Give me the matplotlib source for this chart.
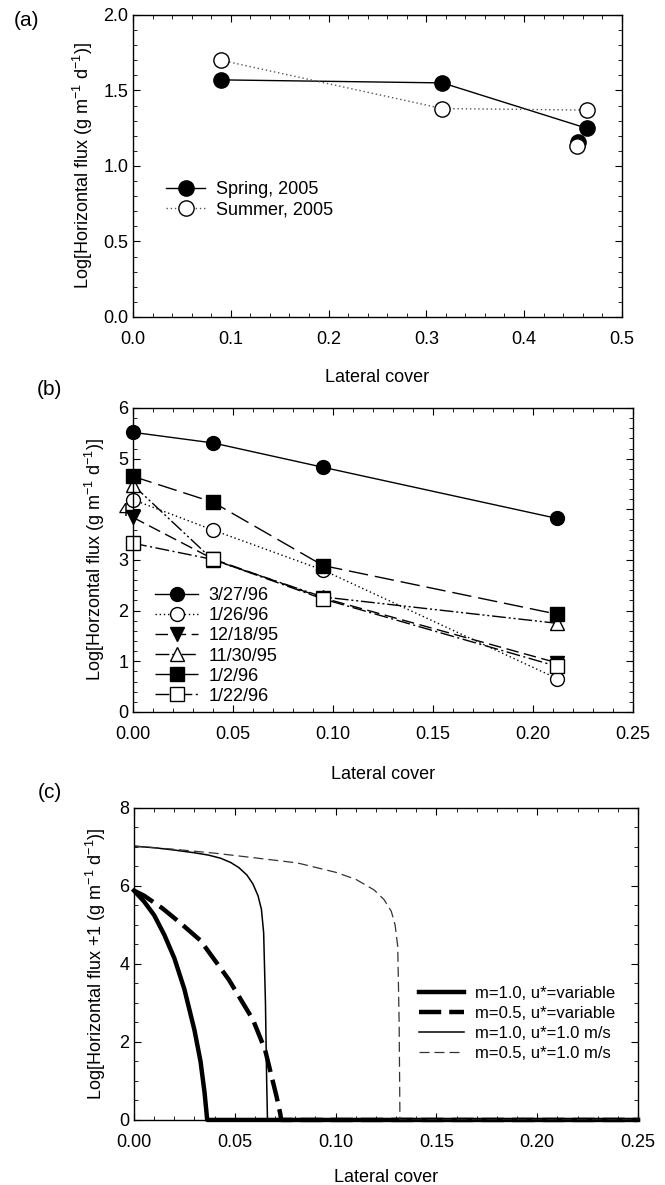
import matplotlib
matplotlib.use("Agg")
import matplotlib.pyplot as plt
from matplotlib.ticker import MultipleLocator, FormatStrFormatter

plt.rcParams['font.family'] = ['Liberation Sans', 'DejaVu Sans']
plt.rcParams['mathtext.fontset'] = 'custom'
plt.rcParams['mathtext.rm'] = 'Liberation Sans'
plt.rcParams['mathtext.it'] = 'Liberation Sans:italic'

# ---- panel (a) data ----
a_spring_x = [0.09, 0.3165, 0.464]
a_spring_y = [1.57, 1.55, 1.25]
a_summer_x = [0.09, 0.3165, 0.464]
a_summer_y = [1.70, 1.38, 1.37]
a_extra_spring = (0.455, 1.16)
a_extra_summer = (0.454, 1.13)

# ---- panel (b) data ----
b_x = [0.0, 0.040, 0.095, 0.212]
b_labels = ['3/27/96', '1/26/96', '12/18/95', '11/30/95', '1/2/96', '1/22/96']
b_y = {
    '3/27/96': [5.52, 5.31, 4.83, 3.82],
    '1/26/96': [4.19, 3.59, 2.80, 0.66],
    '12/18/95': [3.84, 3.02, 2.25, 0.97],
    '11/30/95': [4.48, 3.00, 2.27, 1.75],
    '1/2/96': [4.65, 4.14, 2.89, 1.93],
    '1/22/96': [3.33, 3.01, 2.23, 0.90],
}
b_style = {
    '3/27/96': dict(marker='o', mfc='black', ls='-'),
    '1/26/96': dict(marker='o', mfc='white', ls=(0, (1, 2))),
    '12/18/95': dict(marker='v', mfc='black', ls=(0, (9, 4))),
    '11/30/95': dict(marker='^', mfc='white', ls=(0, (10, 2, 1.5, 2, 1.5, 2))),
    '1/2/96': dict(marker='s', mfc='black', ls=(0, (14, 5))),
    '1/22/96': dict(marker='s', mfc='white', ls=(0, (10, 2.5, 1.5, 2.5))),
}

# ---- panel (c) data (curves) ----
c1_x = [0, 0.005, 0.01, 0.015, 0.02, 0.025, 0.03, 0.033, 0.035, 0.0363, 0.25]
c1_y = [5.88, 5.6, 5.25, 4.75, 4.15, 3.35, 2.3, 1.5, 0.7, 0, 0]
c2_x = [0, 0.005, 0.014, 0.023, 0.033, 0.047, 0.059, 0.065, 0.0707, 0.0725, 0.073, 0.25]
c2_y = [5.88, 5.75, 5.43, 5.05, 4.6, 3.6, 2.57, 1.8, 0.6, 0.17, 0, 0]
c3_x = [0, 0.01, 0.02, 0.03, 0.037, 0.043, 0.048, 0.052, 0.056, 0.059, 0.0615, 0.0632, 0.0643, 0.0652, 0.0658, 0.0662, 0.25]
c3_y = [7.02, 6.98, 6.92, 6.85, 6.79, 6.71, 6.6, 6.47, 6.28, 6.05, 5.75, 5.4, 4.8, 3.0, 1.0, 0, 0]
c4_x = [0, 0.02, 0.04, 0.06, 0.081, 0.10, 0.11, 0.119, 0.124, 0.1276, 0.1295, 0.1308, 0.1315, 0.1319, 0.25]
c4_y = [7.02, 6.94, 6.84, 6.72, 6.59, 6.35, 6.17, 5.9, 5.65, 5.35, 5.0, 4.45, 2.5, 0, 0]
c_labels = ['m=1.0, u*=variable', 'm=0.5, u*=variable', 'm=1.0, u*=1.0 m/s', 'm=0.5, u*=1.0 m/s']

fig = plt.figure(figsize=(6.65, 11.85), dpi=100)
axa = fig.add_axes([0.200, 0.7325, 0.735, 0.2549])
axb = fig.add_axes([0.200, 0.3992, 0.752, 0.2565])
axc = fig.add_axes([0.2015, 0.0549, 0.758, 0.2633])

fs = 13
for ax in (axa, axb, axc):
    ax.tick_params(which='both', direction='in', top=True, right=True, labelsize=fs)
    ax.tick_params(which='major', length=5)
    ax.tick_params(which='minor', length=3)
    ax.tick_params(axis='x', pad=10)
    for s in ax.spines.values():
        s.set_linewidth(1.0)

# (a)
axa.plot(a_spring_x, a_spring_y, 'k-', marker='o', mfc='black', ms=11, lw=1.0, label='Spring, 2005')
axa.plot(a_summer_x, a_summer_y, color='#555555', ls=(0, (1, 2)), lw=1.0, marker='o', mfc='white', mec='black', ms=11, label='Summer, 2005')
axa.plot([a_extra_spring[0]], [a_extra_spring[1]], 'ko', ms=11)
axa.plot([a_extra_summer[0]], [a_extra_summer[1]], 'o', mfc='white', mec='black', ms=11)
axa.set_xlim(0, 0.5)
axa.set_ylim(0, 2.0)
axa.xaxis.set_major_locator(MultipleLocator(0.1))
axa.xaxis.set_minor_locator(MultipleLocator(0.02))
axa.yaxis.set_major_locator(MultipleLocator(0.5))
axa.yaxis.set_minor_locator(MultipleLocator(0.1))
axa.xaxis.set_major_formatter(FormatStrFormatter('%.1f'))
axa.yaxis.set_major_formatter(FormatStrFormatter('%.1f'))
axa.set_xlabel('Lateral cover', fontsize=fs, labelpad=15)
axa.set_ylabel('Log[Horizontal flux (g m$^{-1}$ d$^{-1}$)]', fontsize=fs, labelpad=6)
axa.legend(loc='upper left', bbox_to_anchor=(0.067, 0.45), frameon=False, fontsize=fs,
           borderpad=0, borderaxespad=0,
           handlelength=2.2, handletextpad=0.6, labelspacing=0.2)
fig.text(0.04, 0.983, '(a)', fontsize=15, ha='center', va='center')

# (b)
for lab in b_labels:
    st = b_style[lab]
    axb.plot(b_x, b_y[lab], color='black', ls=st['ls'], lw=1.0, marker=st['marker'],
             mfc=st['mfc'], mec='black', ms=10, label=lab, clip_on=False)
axb.set_xlim(0, 0.25)
axb.set_ylim(0, 6)
axb.xaxis.set_major_locator(MultipleLocator(0.05))
axb.xaxis.set_minor_locator(MultipleLocator(0.01))
axb.yaxis.set_major_locator(MultipleLocator(1))
axb.yaxis.set_minor_locator(MultipleLocator(0.2))
axb.xaxis.set_major_formatter(FormatStrFormatter('%.2f'))
axb.set_xlabel('Lateral cover', fontsize=fs, labelpad=17)
axb.set_ylabel('Log[Horzontal flux (g m$^{-1}$ d$^{-1}$)]', fontsize=fs, labelpad=8)
axb.legend(loc='upper left', bbox_to_anchor=(0.044, 0.41), frameon=False, fontsize=13,
           borderpad=0, borderaxespad=0,
           handlelength=2.4, handletextpad=0.55, labelspacing=0.17)
fig.text(0.075, 0.671, '(b)', fontsize=15, ha='center', va='center')

# (c)
axc.plot(c1_x, c1_y, 'k-', lw=3.2, label=c_labels[0], clip_on=False)
axc.plot(c2_x, c2_y, color='black', ls=(0, (5, 1.8)), lw=3.2, label=c_labels[1], clip_on=False)
axc.plot(c3_x, c3_y, 'k-', lw=1.1, label=c_labels[2])
axc.plot(c4_x, c4_y, color='#333333', ls=(0, (8, 4)), lw=0.9, label=c_labels[3])
axc.set_xlim(0, 0.25)
axc.set_ylim(0, 8)
axc.xaxis.set_major_locator(MultipleLocator(0.05))
axc.xaxis.set_minor_locator(MultipleLocator(0.01))
axc.yaxis.set_major_locator(MultipleLocator(2))
axc.yaxis.set_minor_locator(MultipleLocator(0.5))
axc.xaxis.set_major_formatter(FormatStrFormatter('%.2f'))
axc.set_xlabel('Lateral cover', fontsize=fs, labelpad=13)
axc.set_ylabel('Log[Horizontal flux +1 (g m$^{-1}$ d$^{-1}$)]', fontsize=fs, labelpad=8)
axc.legend(loc='upper left', bbox_to_anchor=(0.565, 0.43), frameon=False, fontsize=12,
           borderpad=0, borderaxespad=0,
           handlelength=2.7, handletextpad=0.7, labelspacing=0.3)
fig.text(0.075, 0.331, '(c)', fontsize=15, ha='center', va='center')

fig.savefig('out.png', dpi=100)
